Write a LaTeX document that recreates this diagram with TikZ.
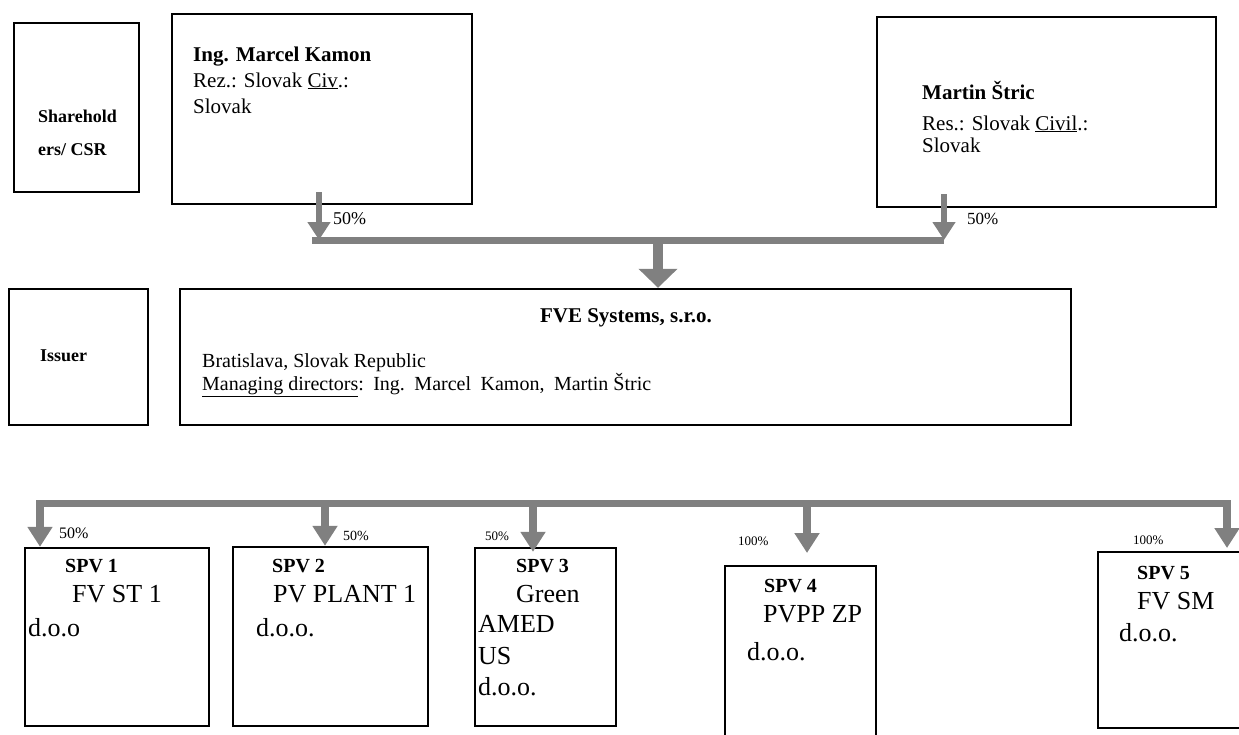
\documentclass[tikz,border=0pt]{standalone}
\usepackage{fontspec}
\setmainfont{Liberation Serif}
\usetikzlibrary{arrows.meta}
\definecolor{flowgray}{HTML}{808080}
\newcommand{\fsz}[1]{\fontsize{#1}{#1}\selectfont}

\begin{document}
\begin{tikzpicture}[x=1pt,y=-1pt,
    box/.style={draw=black,line width=2.4pt,inner sep=0pt},
    lbl/.style={anchor=base west,inner sep=0pt},
    bus/.style={draw=flowgray,line width=7pt},
    flowtop/.style={draw=flowgray,line width=6pt,-{Triangle[width=22pt,length=18pt]}},
    flowmid/.style={draw=flowgray,line width=10pt,-{Triangle[width=38pt,length=19pt]}},
    flow/.style={draw=flowgray,line width=8pt,-{Triangle[width=24pt,length=20pt]}}]

      \useasboundingbox (0,0) rectangle (1239,734);
      \clip (0,0) rectangle (1239,734);

      % shareholders
      \node[box,minimum width=125pt,minimum height=169pt] (holders) at (76.5,107.5) {};
      \node[lbl,font=\bfseries\fsz{18}] (holders1) at (38,122) {Sharehold};
      \node[lbl,font=\bfseries\fsz{18}] (holders2) at (38,155) {ers/ CSR};

      \node[box,minimum width=300pt,minimum height=190pt] (kamon) at (322,109) {};
      \node[lbl,font=\bfseries\fsz{21}] (kamonname) at (193,61) {Ing. Marcel Kamon};
      \node[lbl,font=\fsz{21}] (kamonres) at (193,87) {Rez.: Slovak \underline{Civ}.:};
      \node[lbl,font=\fsz{21}] (kamoncit) at (193,113) {Slovak};

      \node[box,minimum width=339pt,minimum height=190pt] (stric) at (1046.5,112) {};
      \node[lbl,font=\bfseries\fsz{21}] (stricname) at (922,99) {Martin Štric};
      \node[lbl,font=\fsz{21}] (stricres) at (922,130) {Res.: Slovak \underline{Civil}.:};
      \node[lbl,font=\fsz{21}] (striccit) at (922,152) {Slovak};

      % issuer
      \node[box,minimum width=139pt,minimum height=136pt] (issuer) at (78.5,357) {};
      \node[lbl,font=\bfseries\fsz{18}] (issuer1) at (40,361) {Issuer};

      \node[box,minimum width=891pt,minimum height=136pt] (fve) at (625.5,357) {};
      \node[anchor=base,inner sep=0pt,font=\bfseries\fsz{21}] (fvename) at (626,322) {FVE Systems, s.r.o.};
      \node[lbl,font=\fsz{20}] (fveseat) at (202,367) {Bratislava, Slovak Republic};
      \node[lbl,font=\fsz{20}] (fvedir) at (202,390) {\underline{Managing directors}:\hskip9.5pt Ing.\hskip9.5pt Marcel\hskip9.5pt Kamon,\hskip9.5pt Martin Štric};

      % subsidiaries
      \node[box,minimum width=184pt,minimum height=178pt] (spv1) at (117,637) {};
      \node[lbl,font=\bfseries\fsz{20}] (spv1a) at (65,572) {SPV 1};
      \node[lbl,font=\fsz{26}] (spv1b) at (72,602) {FV ST 1};
      \node[lbl,font=\fsz{26}] (spv1c) at (28,636) {d.o.o};

      \node[box,minimum width=195pt,minimum height=179pt] (spv2) at (330.5,636.5) {};
      \node[lbl,font=\bfseries\fsz{20}] (spv2a) at (272,572) {SPV 2};
      \node[lbl,font=\fsz{26}] (spv2b) at (273,602) {PV PLANT 1};
      \node[lbl,font=\fsz{26}] (spv2c) at (256,636) {d.o.o.};

      \node[box,minimum width=141pt,minimum height=178pt] (spv3) at (545.5,637) {};
      \node[lbl,font=\bfseries\fsz{20}] (spv3a) at (516,572) {SPV 3};
      \node[lbl,font=\fsz{26}] (spv3b) at (516,602) {Green};
      \node[lbl,font=\fsz{26}] (spv3c) at (478,632) {AMED};
      \node[lbl,font=\fsz{26}] (spv3d) at (478,664) {US};
      \node[lbl,font=\fsz{26}] (spv3e) at (478,695) {d.o.o.};

      \node[box,minimum width=151pt,minimum height=214pt] (spv4) at (800.5,673) {};
      \node[lbl,font=\bfseries\fsz{20}] (spv4a) at (764,592) {SPV 4};
      \node[lbl,font=\fsz{26}] (spv4b) at (763,622) {PVPP ZP};
      \node[lbl,font=\fsz{26}] (spv4c) at (747,660) {d.o.o.};

      \node[box,minimum width=162pt,minimum height=176pt] (spv5) at (1179,640) {};
      \node[lbl,font=\bfseries\fsz{20}] (spv5a) at (1137,579) {SPV 5};
      \node[lbl,font=\fsz{26}] (spv5b) at (1137,609) {FV SM};
      \node[lbl,font=\fsz{26}] (spv5c) at (1119,641) {d.o.o.};

      % owners to issuer
      \coordinate (barL) at (312,240);
      \coordinate (barR) at (944,240);
      \coordinate (kamonout) at (319,192);
      \coordinate (stricout) at (944,194);
      \coordinate (mid) at (658,240);
      \draw[bus] (barL) -- (barR);
      \draw[flowtop] (kamonout) -- (kamonout |- barL);
      \draw[flowtop] (stricout) -- (barR);
      \draw[flowmid] (mid) -- (mid |- fve.north);
      \node[lbl,font=\fsz{18}] (pctkamon) at (333,224) {50\%};
      \node[lbl,font=\fsz{17}] (pctstric) at (967,224) {50\%};

      % issuer to subsidiaries
      \coordinate (busL) at (36,503);
      \coordinate (busR) at (1231,503);
      \coordinate (t1) at (40,503);
      \coordinate (t2) at (325,503);
      \coordinate (t3) at (533,503);
      \coordinate (t4) at (807,503);
      \coordinate (t4e) at (807,553);
      \coordinate (t5) at (1227,503);
      \coordinate (t5e) at (1227,548);
      \draw[bus] (busL) -- (busR);
      \draw[flow] (t1) -- (t1 |- spv1.north);
      \draw[flow] (t2) -- (t2 |- spv2.north);
      \draw[flow,shorten >=-5pt] (t3) -- (t3 |- spv3.north);
      \draw[flow] (t4) -- (t4e);
      \draw[flow] (t5) -- (t5e);
      \node[lbl,font=\fsz{16}] (pct1) at (59,538) {50\%};
      \node[lbl,font=\fsz{14}] (pct2) at (343,540) {50\%};
      \node[lbl,font=\fsz{13}] (pct3) at (485,540) {50\%};
      \node[lbl,font=\fsz{13}] (pct4) at (738,545) {100\%};
      \node[lbl,font=\fsz{13}] (pct5) at (1133,544) {100\%};

\end{tikzpicture}
\end{document}
